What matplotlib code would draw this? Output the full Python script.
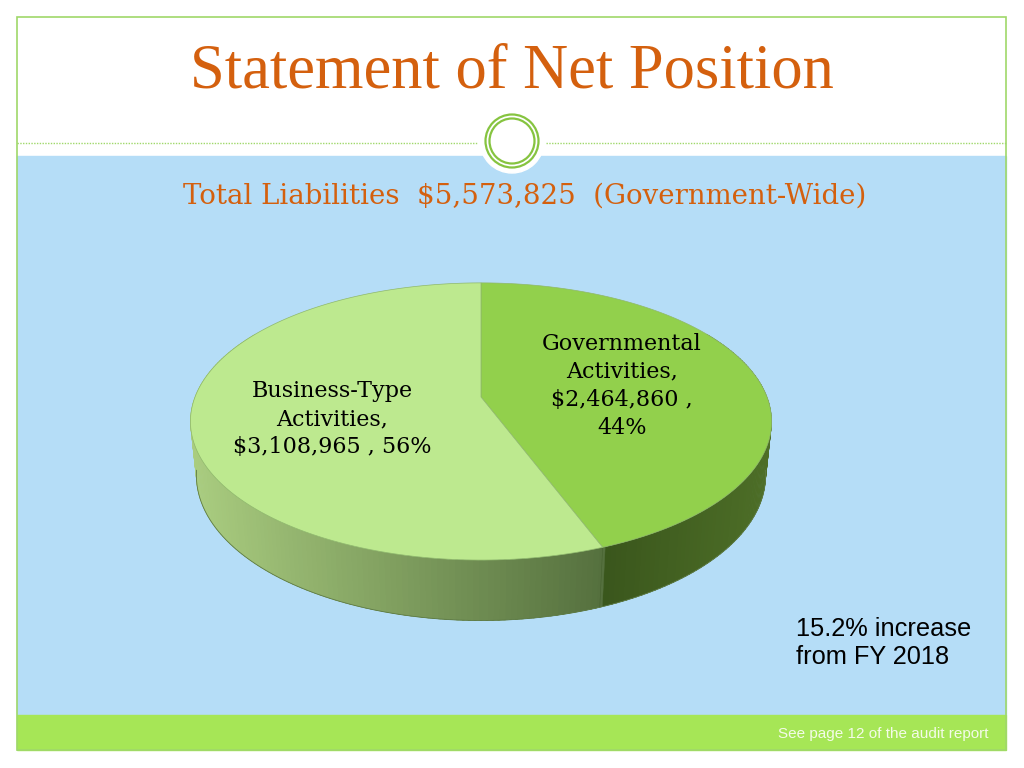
import numpy as np
import matplotlib.pyplot as plt
from matplotlib.patches import Rectangle, Circle, Polygon

# chart data
labels = ["Governmental\nActivities,\n$2,464,860 ,\n44%", "Business-Type\nActivities,\n$3,108,965 , 56%"]
values = [2464860, 3108965]
top_colors = ["#92d04c", "#bde98f"]
title = "Statement of Net Position"
subtitle = "Total Liabilities  $5,573,825  (Government-Wide)"
note = "15.2% increase\nfrom FY 2018"
footer = "See page 12 of the audit report"

ORANGE = "#d4600e"
SERIF = ["Liberation Serif", "DejaVu Serif"]
WIDE_SERIF = ["DejaVu Serif"]
SANS = ["Liberation Sans", "DejaVu Sans"]

# pie geometry (pixels) and a little perspective
CX, CY = 481, 397
S = 286
PHI = np.radians(28)
D = 5.0
H = 0.215


def proj(t, h=0.0):
    u = np.sin(t)
    w = -np.cos(t)
    z = D - w * np.cos(PHI) + h * np.sin(PHI)
    f = D / z
    x = CX + S * u * f
    y = CY + S * (w * np.sin(PHI) + h * np.cos(PHI)) * f
    return x, y


def mix(c1, c2, a):
    c1 = np.array(plt.matplotlib.colors.to_rgb(c1))
    c2 = np.array(plt.matplotlib.colors.to_rgb(c2))
    return tuple(c1 + (c2 - c1) * a)


fig = plt.figure(figsize=(10.24, 7.68), dpi=100)
ax = fig.add_axes([0, 0, 1, 1])
ax.set_xlim(0, 1024)
ax.set_ylim(768, 0)
ax.axis("off")

# slide background
ax.add_patch(Rectangle((0, 0), 1024, 768, color="white", zorder=0))
ax.add_patch(Rectangle((17, 156), 989, 559, color="#b5ddf7", zorder=1))
ax.add_patch(Rectangle((17, 715), 989, 35, color="#a6e656", zorder=1))
ax.add_patch(Rectangle((17, 17), 989, 733, fill=False, ec="#9fd86a", lw=1.2, zorder=2))
ax.plot([17, 478], [143, 143], ls=(0, (1, 1)), color="#9fd86a", lw=1.0, zorder=2)
ax.plot([546, 1006], [143, 143], ls=(0, (1, 1)), color="#9fd86a", lw=1.0, zorder=2)
ax.add_patch(Circle((512, 141), 32, color="white", zorder=3))
ax.add_patch(Circle((512, 141), 26.5, fill=False, ec="#86c440", lw=1.6, zorder=4))
ax.add_patch(Circle((512, 141), 22.5, fill=False, ec="#86c440", lw=1.6, zorder=4))

ax.text(512, 72, title, ha="center", va="center", fontsize=45, color=ORANGE,
        family=SERIF, zorder=5)
ax.text(525, 196, subtitle, ha="center", va="center", fontsize=19.9, color=ORANGE,
        family=WIDE_SERIF, zorder=5)

# slice angles, clockwise from 12 o'clock
fracs = np.array(values) / sum(values)
bounds = np.concatenate([[0], np.cumsum(fracs)]) * 2 * np.pi

# side wall, drawn back to front
n = 240
ts = np.linspace(np.radians(60), np.radians(300), n)
order = np.argsort(-np.abs(ts - np.pi))
xs_left, _ = proj(np.radians(262))
xs_b, _ = proj(bounds[1])
for i in order:
    t0 = ts[i] - 0.012
    t1 = ts[i] + 0.012
    tt = np.array([t0, t1])
    x0, y0 = proj(tt)
    x1, y1 = proj(tt, H)
    xm = proj(ts[i])[0]
    if ts[i] < bounds[1]:
        a = np.clip((xm - xs_b) / (770 - xs_b), 0, 1)
        col = mix("#3a561c", "#4d6e27", a)
    else:
        a = np.clip((xm - xs_left) / (xs_b - xs_left), 0, 1)
        col = mix("#aacd80", "#55703e", a)
    ax.add_patch(Polygon(np.column_stack([np.r_[x0, x1[::-1]], np.r_[y0, y1[::-1]]]),
                         closed=True, fc=col, ec=col, lw=0.3, zorder=6))

# outline of side
tb = np.linspace(np.radians(98), np.radians(262), 200)
bx, by = proj(tb, H)
ax.plot(bx, by, color="#5d7a44", lw=0.6, zorder=7)
bx, by = proj(bounds[1], H)
tx, ty = proj(bounds[1])
ax.plot([tx, bx], [ty, by], color="#2f4a18", lw=0.4, alpha=0.4, zorder=7)

# top faces
for k in range(len(values)):
    tt = np.linspace(bounds[k], bounds[k + 1], 200)
    px, py = proj(tt)
    pts = np.column_stack([np.r_[CX, px], np.r_[CY, py]])
    ax.add_patch(Polygon(pts, closed=True, fc=top_colors[k], ec="#8fb86a", lw=0.5, zorder=8))

ax.text(622, 386, labels[0], ha="center", va="center", fontsize=16,
        family=WIDE_SERIF, linespacing=1.37, zorder=9)
ax.text(332, 419, labels[1], ha="center", va="center", fontsize=16,
        family=WIDE_SERIF, linespacing=1.37, zorder=9)

ax.text(796, 643, note, ha="left", va="center", fontsize=18.3, family=SANS,
        linespacing=1.2, zorder=9)
ax.text(989, 734, footer, ha="right", va="center", fontsize=11, family=SANS,
        color="#f4fbe8", zorder=9)

fig.savefig("out.png", dpi=100)
